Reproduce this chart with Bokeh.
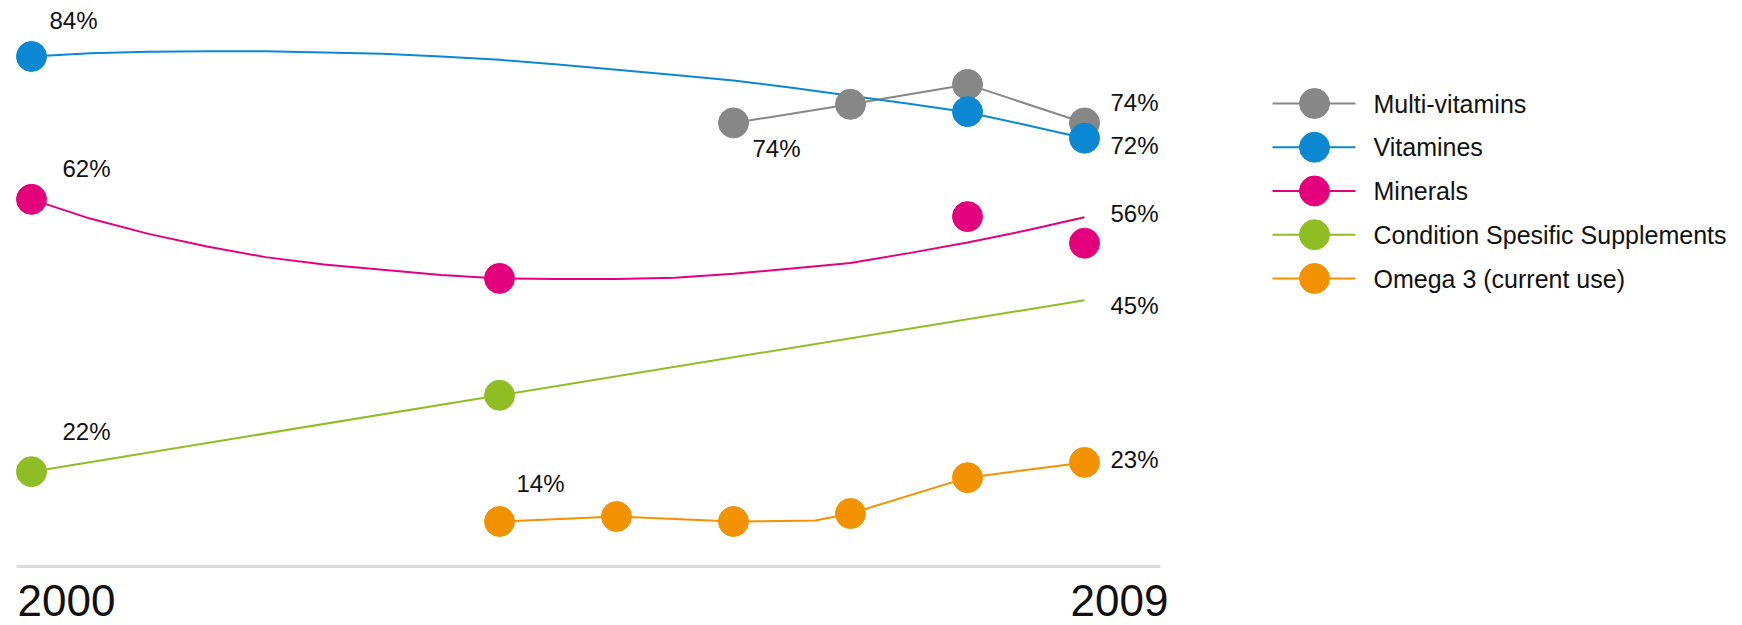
from bokeh.plotting import figure
from bokeh.models import Range1d, ColumnDataSource
from bokeh.embed import file_html
from bokeh.resources import INLINE
from bokeh.core.properties import value

# ---------------- data ----------------
years = [2000, 2001, 2002, 2003, 2004, 2005, 2006, 2007, 2008, 2009]

multi_years = [2006, 2007, 2008, 2009]
multi_vals = [74.0, 76.8, 79.8, 74.0]

# smooth trend curve of Vitamines, read every half year
vit_line_years = [2000, 2000.5, 2001, 2001.5, 2002, 2002.5, 2003, 2003.5, 2004, 2004.5,
                  2005, 2005.5, 2006, 2006.5, 2007, 2007.5, 2008, 2008.5, 2009]
vit_line_vals = [84.0, 84.5, 84.7, 84.8, 84.8, 84.6, 84.4, 84.0, 83.5, 82.8,
                 82.0, 81.2, 80.4, 79.3, 78.1, 76.9, 75.6, 73.7, 71.7]
vit_dot_years = [2000, 2008, 2009]
vit_dot_vals = [84.0, 75.7, 71.7]

# smooth trend curve of Minerals, read every half year
min_line_years = [2000, 2000.5, 2001, 2001.5, 2002, 2002.5, 2003, 2003.5, 2004, 2004.5,
                  2005, 2005.5, 2006, 2006.5, 2007, 2007.5, 2008, 2008.5, 2009]
min_line_vals = [62.5, 59.6, 57.3, 55.4, 53.8, 52.7, 51.9, 51.1, 50.6, 50.5,
                 50.5, 50.7, 51.3, 52.1, 52.9, 54.4, 56.0, 57.8, 59.8]
min_dot_years = [2000, 2004, 2008, 2009]
min_dot_vals = [62.5, 50.6, 59.9, 55.9]

cond_line_years = [2000, 2004, 2009]
cond_line_vals = [21.5, 33.0, 47.3]
cond_dot_years = [2000, 2004]
cond_dot_vals = [21.5, 33.0]

omega_line_years = [2004, 2005, 2006, 2006.7, 2007, 2008, 2009]
omega_line_vals = [14.0, 14.75, 14.0, 14.15, 15.2, 20.6, 22.9]
omega_dot_years = [2004, 2005, 2006, 2007, 2008, 2009]
omega_dot_vals = [14.0, 14.75, 14.0, 15.2, 20.6, 22.9]

series_names = ["Multi-vitamins", "Vitamines", "Minerals",
                "Condition Spesific Supplements", "Omega 3 (current use)"]

label_texts = ["84%", "62%", "22%", "14%", "74%", "74%", "72%", "56%", "45%", "23%"]
label_years = [2000, 2000, 2000, 2004, 2006, 2009, 2009, 2009, 2009, 2009]
label_vals = [84.0, 62.5, 21.5, 14.0, 74.0, 74.0, 71.7, 59.8, 47.3, 22.9]

tick_years = [2000, 2009]
tick_labels = ["2000", "2009"]

# ---------------- styles / layout ----------------
COLORS = ["#878787", "#0b88d1", "#e4007d", "#8fbd24", "#f39200"]
TEXT = "#111111"
FONT = value("Liberation Sans")
W, H = 1742, 625
PX_PER_YEAR = 117.0
PX_PER_PCT = 6.643
FIRST_YEAR_PX = 31.0
TOP_PCT = 92.43
MS = 30
LW = 2

x_start = years[0] - FIRST_YEAR_PX / PX_PER_YEAR
y_end = TOP_PCT

p = figure(width=W, height=H, output_backend="svg", toolbar_location=None,
           x_range=Range1d(x_start, x_start + W / PX_PER_YEAR),
           y_range=Range1d(y_end - H / PX_PER_PCT, y_end),
           x_axis_location=None, y_axis_location=None,
           min_border=0, outline_line_color=None,
           background_fill_color="white", border_fill_color="white")
p.grid.visible = False
p.extra_x_ranges = {"px": Range1d(0, W)}
p.extra_y_ranges = {"py": Range1d(H, 0)}

# baseline (x axis line)
base_val = y_end - 566 / PX_PER_PCT
p.segment(x0=[tick_years[0] - 15 / PX_PER_YEAR], y0=[base_val],
          x1=[tick_years[-1] + 76 / PX_PER_YEAR], y1=[base_val],
          line_color="#d9d9d9", line_width=3)
p.text(x=tick_years, y=[base_val] * len(tick_years), text=tick_labels,
       x_offset=-14, y_offset=34, text_font=FONT, text_font_size="44px",
       text_color=TEXT, text_align="left", text_baseline="alphabetic")

# lines
p.line(multi_years, multi_vals, line_color=COLORS[0], line_width=LW)
p.line(vit_line_years, vit_line_vals, line_color=COLORS[1], line_width=LW)
p.line(min_line_years, min_line_vals, line_color=COLORS[2], line_width=LW)
p.line(cond_line_years, cond_line_vals, line_color=COLORS[3], line_width=LW)
p.line(omega_line_years, omega_line_vals, line_color=COLORS[4], line_width=LW)

# dots
p.scatter(multi_years, multi_vals, size=MS, color=COLORS[0])
p.scatter(vit_dot_years, vit_dot_vals, size=MS, color=COLORS[1])
p.scatter(min_dot_years, min_dot_vals, size=MS, color=COLORS[2])
p.scatter(cond_dot_years, cond_dot_vals, size=MS, color=COLORS[3])
p.scatter(omega_dot_years, omega_dot_vals, size=MS, color=COLORS[4])

# value labels
lab_dx = [18, 31, 31, 17, 19, 26, 26, 26, 26, 26]
lab_dy = [-36, -31, -40, -38, 26, -20, 7, -4, 5, -3]
lsrc = ColumnDataSource(dict(x=label_years, y=label_vals, t=label_texts,
                             dx=lab_dx, dy=lab_dy))
p.text(x="x", y="y", text="t", x_offset="dx", y_offset="dy", source=lsrc,
       text_font=FONT, text_font_size="24px", text_color=TEXT,
       text_align="left", text_baseline="alphabetic")

# legend (drawn in pixel space)
n = len(series_names)
row_y = [103 + 43.75 * i for i in range(n)]
p.segment(x0=[1272] * n, y0=row_y, x1=[1355] * n, y1=row_y,
          line_color=COLORS, line_width=LW, x_range_name="px", y_range_name="py")
p.scatter(x=[1314] * n, y=row_y, size=MS, color=COLORS,
          x_range_name="px", y_range_name="py")
p.text(x=[1373] * n, y=row_y, text=series_names, y_offset=0,
       text_font=FONT, text_font_size="25px", text_color=TEXT,
       text_align="left", text_baseline="alphabetic",
       x_range_name="px", y_range_name="py")

open("out.html", "w").write(file_html(p, INLINE))
